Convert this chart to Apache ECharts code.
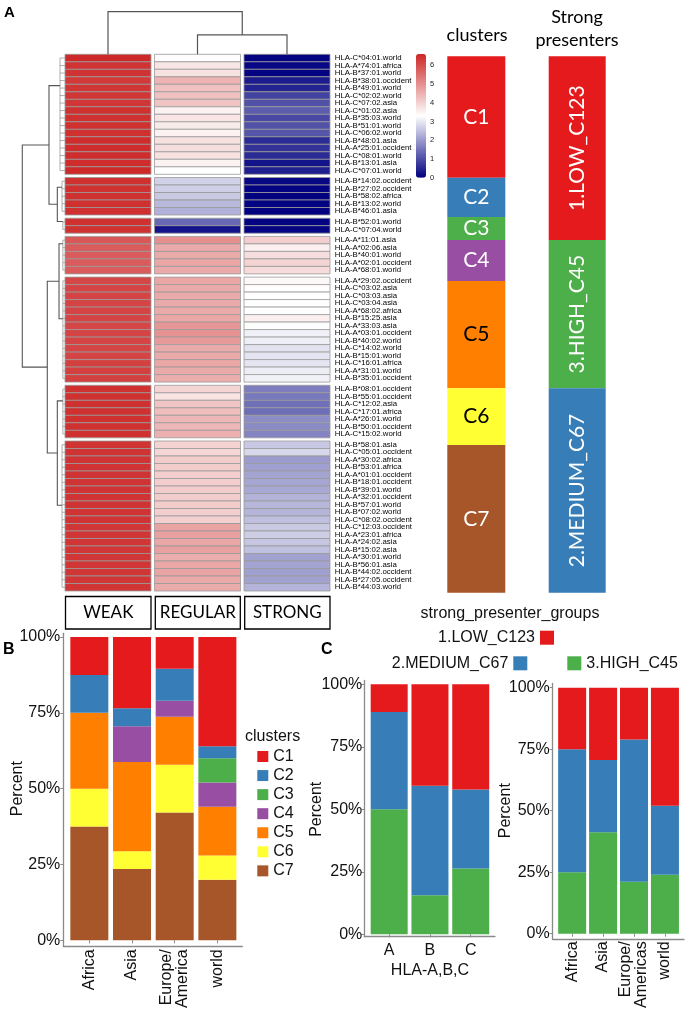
<!DOCTYPE html>
<html><head><meta charset="utf-8">
<script src="https://cdn.jsdelivr.net/npm/echarts@6/dist/echarts.min.js"></script>
<style>html,body{margin:0;padding:0;background:#fff}#c{width:685px;height:1011px}</style>
</head><body><div id="c"></div>
<script>
// ---------------- DATA ----------------
const heatColumns = ['WEAK', 'REGULAR', 'STRONG'];
const clusterNames = ['C1', 'C2', 'C3', 'C4', 'C5', 'C6', 'C7'];
const clusterColors = ['#E41A1C', '#377EB8', '#4DAF4A', '#984EA3', '#FF7F00', '#FFFF33', '#A65628'];
const clusterLabelColors = ['#fff', '#fff', '#fff', '#fff', '#000', '#000', '#fff'];

const rowsC1 = ['HLA-C*04:01.world','HLA-A*74:01.africa','HLA-B*37:01.world','HLA-B*38:01.occident','HLA-B*49:01.world','HLA-C*02:02.world','HLA-C*07:02.asia','HLA-C*01:02.asia','HLA-B*35:03.world','HLA-B*51:01.world','HLA-C*06:02.world','HLA-B*48:01.asia','HLA-A*25:01.occident','HLA-C*08:01.world','HLA-B*13:01.asia','HLA-C*07:01.world'];
const rowsC2 = ['HLA-B*14:02.occident','HLA-B*27:02.occident','HLA-B*58:02.africa','HLA-B*13:02.world','HLA-B*46:01.asia'];
const rowsC3 = ['HLA-B*52:01.world','HLA-C*07:04.world'];
const rowsC4 = ['HLA-A*11:01.asia','HLA-A*02:06.asia','HLA-B*40:01.world','HLA-A*02:01.occident','HLA-A*68:01.world'];
const rowsC5 = ['HLA-A*29:02.occident','HLA-C*03:02.asia','HLA-C*03:03.asia','HLA-C*03:04.asia','HLA-A*68:02.africa','HLA-B*15:25.asia','HLA-A*33:03.asia','HLA-A*03:01.occident','HLA-B*40:02.world','HLA-C*14:02.world','HLA-B*15:01.world','HLA-C*16:01.africa','HLA-A*31:01.world','HLA-B*35:01.occident'];
const rowsC6 = ['HLA-B*08:01.occident','HLA-B*55:01.occident','HLA-C*12:02.asia','HLA-C*17:01.africa','HLA-A*26:01.world','HLA-B*50:01.occident','HLA-C*15:02.world'];
const rowsC7 = ['HLA-B*58:01.asia','HLA-C*05:01.occident','HLA-A*30:02.africa','HLA-B*53:01.africa','HLA-A*01:01.occident','HLA-B*18:01.occident','HLA-B*39:01.world','HLA-A*32:01.occident','HLA-B*57:01.world','HLA-B*07:02.world','HLA-C*08:02.occident','HLA-C*12:03.occident','HLA-A*23:01.africa','HLA-A*24:02.asia','HLA-B*15:02.asia','HLA-A*30:01.world','HLA-B*56:01.asia','HLA-B*44:02.occident','HLA-B*27:05.occident','HLA-B*44:03.world'];

// [WEAK, REGULAR, STRONG] per row
const valsC1 = [[6.55,3.35,0.05],[6.4,3.7,0.1],[6.4,3.75,0.05],[6.3,4.45,0.35],[6.35,4.25,0.45],[6.35,4.25,0.85],[6.35,4.2,1.05],[6.45,3.5,1.2],[6.45,3.7,0.95],[6.45,3.6,1.05],[6.45,3.5,1.1],[6.5,3.75,0.55],[6.5,3.8,0.65],[6.5,3.75,0.55],[6.5,3.5,0.25],[6.55,3.32,0.4]];
const valsC2 = [[6.45,2.7,0.1],[6.45,2.68,0.05],[6.45,2.6,0.02],[6.45,2.4,0.05],[6.45,2.28,0.02]];
const valsC3 = [[6.45,1.35,0.05],[6.45,0.25,0.05]];
const valsC4 = [[5.85,5.0,4.05],[5.8,4.6,3.55],[5.8,4.6,3.8],[5.8,4.65,3.95],[5.8,4.6,3.85]];
const valsC5 = [[6.1,4.65,3.4],[6.15,4.6,3.33],[6.15,4.6,3.3],[6.15,4.6,3.32],[6.15,4.6,3.31],[6.15,4.65,3.55],[6.1,4.9,3.27],[6.15,4.95,3.1],[6.15,4.85,3.08],[6.15,4.6,2.92],[6.15,4.6,2.95],[6.2,4.65,2.96],[6.2,4.6,3.07],[6.2,4.55,3.12]];
const valsC6 = [[6.45,3.95,1.63],[6.45,3.72,1.55],[6.45,4.2,1.45],[6.45,4.3,1.42],[6.45,4.4,1.82],[6.45,4.4,1.79],[6.45,4.5,1.71]];
const valsC7 = [[6.4,3.97,2.59],[6.4,3.93,2.8],[6.4,4.08,2.02],[6.4,4.08,2.07],[6.4,4.05,2.12],[6.4,4.05,2.15],[6.4,4.08,2.17],[6.4,4.08,2.32],[6.4,4.08,2.37],[6.4,4.05,2.34],[6.4,4.03,2.47],[6.35,4.7,2.6],[6.35,4.75,2.65],[6.35,4.65,2.56],[6.35,4.75,2.49],[6.35,4.55,2.1],[6.35,4.65,2.12],[6.35,4.68,2.07],[6.35,4.6,2.1],[6.35,4.58,2.33]];

const colorbarMax = 6.6;

// column dendrogram: [childA, childB, height]; leaves 0..2, merges numbered from 3
const colMerges = [[1, 2, 0.456], [0, 3, 1.0]];
// row dendrogram: within-cluster comb height, attach position (rows into cluster)
const clusterCombHeight = [0.117, 0.07, 0.05, 0.05, 0.05, 0.05, 0.07];
const clusterAttach = [4.17, 1.29, 0.43, 0.97, 5.55, 2.07, 8.57];
// merges between clusters: nodes 0..6 clusters, merges numbered from 7
const rowMerges = [[1, 2, 0.18], [0, 7, 0.375], [3, 4, 0.14], [5, 6, 0.18], [9, 10, 0.415], [8, 11, 1.0]];

// cluster column block sizes and strong presenter blocks (top to bottom)
const clusterBlockSizes = [121.4, 39.3, 23, 41, 107.3, 56.7, 147.7];
const spNames = ['1.LOW_C123', '3.HIGH_C45', '2.MEDIUM_C67'];
const spColors = ['#E41A1C', '#4DAF4A', '#377EB8'];
const spBlockSizes = [183.7, 148.3, 204.4];

// Panel B
const regionsB = ['Africa', 'Asia', 'Europe/\nAmerica', 'world'];
const pctB = {
  C1: [12.5, 23.5, 10.5, 36],
  C2: [12.5, 5.9, 10.5, 4],
  C3: [0, 0, 0, 8],
  C4: [0, 11.8, 5.3, 8],
  C5: [25, 29.4, 15.8, 16],
  C6: [12.5, 5.9, 15.8, 8],
  C7: [37.5, 23.5, 42.1, 20]
};
// Panel C
const genesC = ['A', 'B', 'C'];
const geneLow = [11.1, 40.6, 42.1];
const geneMedium = [38.9, 43.8, 31.6];
const geneHigh = [50, 15.6, 26.3];
const regionsC = ['Africa', 'Asia', 'Europe/\nAmericas', 'world'];
const regLow = [25, 29.4, 21.1, 48];
const regMedium = [50, 29.4, 57.8, 28];
const regHigh = [25, 41.2, 21.1, 24];

// ---------------- LAYOUT ----------------
const ROW_PX = 7.5, GAP_PX = 3.2, HEAT_TOP = 54.3, HEAT_LEFT = 63.25, HEAT_W = 268.5;
const groupRows = [rowsC1, rowsC2, rowsC3, rowsC4, rowsC5, rowsC6, rowsC7];
const groupVals = [valsC1, valsC2, valsC3, valsC4, valsC5, valsC6, valsC7];
const GAPU = GAP_PX / ROW_PX;
const offsets = []; let acc = 0;
groupRows.forEach((r, g) => { offsets.push(acc + g * GAPU); acc += r.length; });
const totalUnits = acc + (groupRows.length - 1) * GAPU;

const AR = 'Liberation Sans';
const CAL = 'Lato';
const AXC = '#8a8a8a';
const TXC = '#111';

const grid = [], xAxis = [], yAxis = [], series = [];

function renderCell(params, api) {
  const c = api.coord([api.value(0), api.value(1)]);
  const s = api.size([1, 1]);
  return {
    type: 'rect',
    shape: { x: c[0] - s[0] / 2 + 1.75, y: c[1] - s[1] / 2, width: s[0] - 3.5, height: s[1] },
    style: { fill: api.visual('color'), stroke: '#9a9a9a', lineWidth: 0.8 }
  };
}

// heatmap groups: grids 0..6
groupRows.forEach((rows, g) => {
  grid.push({ left: HEAT_LEFT, width: HEAT_W, top: HEAT_TOP + offsets[g] * ROW_PX, height: rows.length * ROW_PX });
  xAxis.push({ type: 'category', gridIndex: g, data: heatColumns, show: false });
  yAxis.push({ type: 'category', gridIndex: g, data: rows, inverse: true, position: 'right',
    axisLine: { show: false }, axisTick: { show: false },
    axisLabel: { interval: 0, fontSize: 7.8, margin: 3, color: '#000', fontFamily: AR } });
  const data = [];
  groupVals[g].forEach((v, i) => v.forEach((x, j) => data.push([j, i, x])));
  series.push({ type: 'custom', xAxisIndex: g, yAxisIndex: g, data, renderItem: renderCell, encode: { x: 0, y: 1 }, silent: true });
});

// grid 7: column dendrogram
grid.push({ left: HEAT_LEFT, width: HEAT_W, top: 11.7, height: HEAT_TOP - 11.7 });
xAxis.push({ type: 'value', gridIndex: 7, min: -0.5, max: 2.5, show: false });
yAxis.push({ type: 'value', gridIndex: 7, min: 0, max: 1, show: false });
(function () {
  const pos = [0, 1, 2], h = [0, 0, 0], lines = [];
  colMerges.forEach(m => {
    const [a, b, hm] = m;
    lines.push({ coords: [[pos[a], h[a]], [pos[a], hm], [pos[b], hm], [pos[b], h[b]]] });
    pos.push((pos[a] + pos[b]) / 2); h.push(hm);
  });
  series.push({ type: 'lines', coordinateSystem: 'cartesian2d', xAxisIndex: 7, yAxisIndex: 7, polyline: true,
    data: lines, lineStyle: { color: '#555', width: 1.2, opacity: 1 }, silent: true });
})();

// grid 8: row dendrogram
grid.push({ left: 22.3, width: HEAT_LEFT + 1.75 - 22.3, top: HEAT_TOP, height: totalUnits * ROW_PX });
xAxis.push({ type: 'value', gridIndex: 8, min: 0, max: 1, inverse: true, show: false });
yAxis.push({ type: 'value', gridIndex: 8, min: 0, max: totalUnits, inverse: true, show: false });
(function () {
  const combLines = [], mergeLines = [], pos = [], h = [];
  groupRows.forEach((rows, g) => {
    const hc = clusterCombHeight[g];
    const first = offsets[g] + 0.5, last = offsets[g] + rows.length - 0.5;
    rows.forEach((r, i) => combLines.push({ coords: [[0, offsets[g] + i + 0.5], [hc, offsets[g] + i + 0.5]] }));
    combLines.push({ coords: [[hc, first], [hc, last]] });
    pos.push(offsets[g] + clusterAttach[g]); h.push(hc);
  });
  rowMerges.forEach(m => {
    const [a, b, hm] = m;
    mergeLines.push({ coords: [[h[a], pos[a]], [hm, pos[a]], [hm, pos[b]], [h[b], pos[b]]] });
    pos.push((pos[a] + pos[b]) / 2); h.push(hm);
  });
  series.push({ type: 'lines', coordinateSystem: 'cartesian2d', xAxisIndex: 8, yAxisIndex: 8, polyline: true,
    data: combLines, lineStyle: { color: '#999', width: 0.8, opacity: 1 }, silent: true });
  series.push({ type: 'lines', coordinateSystem: 'cartesian2d', xAxisIndex: 8, yAxisIndex: 8, polyline: true,
    data: mergeLines, lineStyle: { color: '#555', width: 1.1, opacity: 1 }, silent: true });
})();

// grid 9: colorbar tick labels
grid.push({ left: 416, width: 10, top: 54, height: 123.7 });
xAxis.push({ type: 'value', gridIndex: 9, show: false, min: 0, max: 1 });
yAxis.push({ type: 'value', gridIndex: 9, min: 0, max: colorbarMax, interval: 1, position: 'right',
  axisLine: { show: false }, axisTick: { show: false }, splitLine: { show: false },
  axisLabel: { fontSize: 7.5, margin: 4, color: '#222', fontFamily: AR, showMaxLabel: false } });

// grid 10: clusters column
const clTotal = clusterBlockSizes.reduce((a, b) => a + b, 0);
grid.push({ left: 447.3, width: 58, top: 56.3, height: 536.4 });
xAxis.push({ type: 'category', gridIndex: 10, data: [''], show: false });
yAxis.push({ type: 'value', gridIndex: 10, min: 0, max: clTotal, inverse: true, show: false });
clusterNames.forEach((n, i) => {
  series.push({ type: 'bar', name: n, xAxisIndex: 10, yAxisIndex: 10, stack: 'cl', barWidth: '100%',
    data: [clusterBlockSizes[i]], itemStyle: { color: clusterColors[i] }, silent: true,
    label: { show: true, position: 'inside', formatter: '{a}', color: clusterLabelColors[i], fontFamily: CAL, fontSize: 21 } });
});

// grid 11: strong presenters column
const spTotal = spBlockSizes.reduce((a, b) => a + b, 0);
grid.push({ left: 548.7, width: 57, top: 56.3, height: 536.4 });
xAxis.push({ type: 'category', gridIndex: 11, data: [''], show: false });
yAxis.push({ type: 'value', gridIndex: 11, min: 0, max: spTotal, inverse: true, show: false });
spNames.forEach((n, i) => {
  series.push({ type: 'bar', name: n, xAxisIndex: 11, yAxisIndex: 11, stack: 'sp', barWidth: '100%',
    data: [spBlockSizes[i]], itemStyle: { color: spColors[i] }, silent: true,
    label: { show: true, position: 'inside', rotate: 90, formatter: '{a}', color: '#fff', fontFamily: CAL, fontSize: 21 } });
});

// helpers for ggplot-like panels
function mainAxes(gi, cats, opts) {
  xAxis.push({ type: 'category', gridIndex: gi, data: cats, offset: opts.xOffset,
    axisLine: { show: false }, axisTick: { show: true, alignWithLabel: true, length: 3, lineStyle: { color: AXC } },
    axisLabel: Object.assign({ interval: 0, fontSize: 16, color: TXC, fontFamily: AR, margin: opts.xMargin }, opts.xLabel || {}),
    name: opts.xName || '', nameLocation: 'middle', nameGap: opts.xNameGap || 20, nameMoveOverlap: false,
    nameTextStyle: { fontSize: 16, color: TXC, fontFamily: AR } });
  yAxis.push({ type: 'value', gridIndex: gi, min: 0, max: 100, interval: 25, offset: opts.yOffset,
    axisLine: { show: false }, axisTick: { show: true, length: 3, lineStyle: { color: AXC } }, splitLine: { show: false },
    axisLabel: { formatter: '{value}%', fontSize: 16, color: TXC, fontFamily: AR, margin: opts.yMargin },
    name: 'Percent', nameLocation: 'middle', nameGap: opts.yNameGap, nameMoveOverlap: false,
    nameTextStyle: { fontSize: 16, color: TXC, fontFamily: AR } });
}
function frameAxes(gi) {
  xAxis.push({ type: 'value', gridIndex: gi, min: 0, max: 1, axisLine: { show: true, lineStyle: { color: AXC, width: 1.3 } },
    axisTick: { show: false }, axisLabel: { show: false }, splitLine: { show: false } });
  yAxis.push({ type: 'value', gridIndex: gi, min: 0, max: 1, axisLine: { show: true, lineStyle: { color: AXC, width: 1.3 } },
    axisTick: { show: false }, axisLabel: { show: false }, splitLine: { show: false } });
}

// grid 12: Panel B main, grid 13 frame
grid.push({ left: 68, width: 170.7, top: 637, height: 305 });
mainAxes(12, regionsB, { xOffset: 4, xMargin: 5, yOffset: 4.7, yMargin: 3, yNameGap: 38, xLabel: { rotate: 90 } });
grid.push({ left: 63.3, width: 179, top: 633.3, height: 312.7 });
frameAxes(13);
['C7', 'C6', 'C5', 'C4', 'C3', 'C2', 'C1'].forEach(n => {
  series.push({ type: 'bar', name: n, xAxisIndex: 12, yAxisIndex: 12, stack: 'b', barWidth: 38,
    data: pctB[n], itemStyle: { color: clusterColors[clusterNames.indexOf(n)] }, silent: true });
});

// grid 14: Panel C left, grid 15 frame
grid.push({ left: 368.8, width: 122.3, top: 684.3, height: 250 });
mainAxes(14, genesC, { xOffset: 2.4, xMargin: 6, yOffset: 4.5, yMargin: 2, yNameGap: 40, xName: 'HLA-A,B,C', xNameGap: 26 });
grid.push({ left: 364.3, width: 130.7, top: 680.5, height: 256.2 });
frameAxes(15);
// grid 16: Panel C right, grid 17 frame
grid.push({ left: 556.7, width: 123.7, top: 687.7, height: 250 });
mainAxes(16, regionsC, { xOffset: 1.6, xMargin: 6, yOffset: 4, yMargin: 3, yNameGap: 39.5, xLabel: { rotate: 90 } });
grid.push({ left: 552.7, width: 131.3, top: 683.5, height: 255.8 });
frameAxes(17);

[['3.HIGH_C45', geneHigh, regHigh, '#4DAF4A'], ['2.MEDIUM_C67', geneMedium, regMedium, '#377EB8'], ['1.LOW_C123', geneLow, regLow, '#E41A1C']]
  .forEach(([n, gv, rv, col]) => {
    series.push({ type: 'bar', name: n, xAxisIndex: 14, yAxisIndex: 14, stack: 'cg', barWidth: 37, data: gv, itemStyle: { color: col }, silent: true });
    series.push({ type: 'bar', name: n, xAxisIndex: 16, yAxisIndex: 16, stack: 'cr', barWidth: 28, data: rv, itemStyle: { color: col }, silent: true });
  });

const legendText = { fontSize: 16, color: TXC, fontFamily: AR };
const option = {
  animation: false,
  grid, xAxis, yAxis, series,
  visualMap: {
    type: 'continuous', min: 0, max: colorbarMax, seriesIndex: [0, 1, 2, 3, 4, 5, 6], dimension: 2,
    inRange: { color: ['#000080', '#ffffff', '#CD2626'] },
    left: 416, top: 54, itemWidth: 10, itemHeight: 123.7, padding: 0, text: null, calculable: false,
    showLabel: false, hoverLink: false
  },
  legend: [
    { data: clusterNames, orient: 'vertical', left: 257.3, top: 748.5, itemWidth: 11, itemHeight: 11, itemGap: 3.06,
      icon: 'rect', padding: 0, selectedMode: false, textStyle: Object.assign({ lineHeight: 11 }, legendText) },
    { data: ['1.LOW_C123'], align: 'right', right: 131, top: 629.7, itemWidth: 14, itemHeight: 14, icon: 'rect',
      padding: 0, selectedMode: false, textStyle: legendText },
    { data: ['2.MEDIUM_C67'], align: 'right', right: 157.7, top: 655.3, itemWidth: 14, itemHeight: 14, icon: 'rect',
      padding: 0, selectedMode: false, textStyle: legendText },
    { data: ['3.HIGH_C45'], align: 'left', left: 567.3, top: 655.3, itemWidth: 14, itemHeight: 14, icon: 'rect',
      padding: 0, selectedMode: false, textStyle: legendText }
  ],
  graphic: [
    { type: 'text', left: 4, top: 5, style: { text: 'A', fontSize: 15, fontWeight: 'bold', fontFamily: AR, fill: '#000' } },
    { type: 'text', left: 3, top: 642, style: { text: 'B', fontSize: 16, fontWeight: 'bold', fontFamily: AR, fill: '#000' } },
    { type: 'text', left: 321, top: 642, style: { text: 'C', fontSize: 16, fontWeight: 'bold', fontFamily: AR, fill: '#000' } },
    { type: 'text', x: 477, y: 35, style: { text: 'clusters', align: 'center', verticalAlign: 'middle', fontSize: 18, fontFamily: CAL, fill: '#000' } },
    { type: 'text', x: 577, y: 17, style: { text: 'Strong', align: 'center', verticalAlign: 'middle', fontSize: 18, fontFamily: CAL, fill: '#000' } },
    { type: 'text', x: 577, y: 40, style: { text: 'presenters', align: 'center', verticalAlign: 'middle', fontSize: 18, fontFamily: CAL, fill: '#000' } },
    { type: 'rect', shape: { x: 65.5, y: 596.5, width: 85.5, height: 32.5 }, style: { fill: 'none', stroke: '#000', lineWidth: 1.3 } },
    { type: 'rect', shape: { x: 155.3, y: 596.5, width: 85, height: 32.5 }, style: { fill: 'none', stroke: '#000', lineWidth: 1.3 } },
    { type: 'rect', shape: { x: 244.7, y: 596.5, width: 85.3, height: 32.5 }, style: { fill: 'none', stroke: '#000', lineWidth: 1.3 } },
    { type: 'text', x: 108.3, y: 613, style: { text: heatColumns[0], align: 'center', verticalAlign: 'middle', fontSize: 17, fontFamily: CAL, fill: '#000' } },
    { type: 'text', x: 197.8, y: 613, style: { text: heatColumns[1], align: 'center', verticalAlign: 'middle', fontSize: 17, fontFamily: CAL, fill: '#000' } },
    { type: 'text', x: 287.3, y: 613, style: { text: heatColumns[2], align: 'center', verticalAlign: 'middle', fontSize: 17, fontFamily: CAL, fill: '#000' } },
    { type: 'text', x: 510, y: 613.3, style: { text: 'strong_presenter_groups', align: 'center', verticalAlign: 'middle', fontSize: 16, fontFamily: AR, fill: TXC } },
    { type: 'text', x: 245, y: 737, style: { text: 'clusters', align: 'left', verticalAlign: 'middle', fontSize: 16, fontFamily: AR, fill: TXC } }
  ]
};
const chart = echarts.init(document.getElementById('c'), null, { renderer: 'canvas' });
chart.setOption(option);
</script></body></html>
